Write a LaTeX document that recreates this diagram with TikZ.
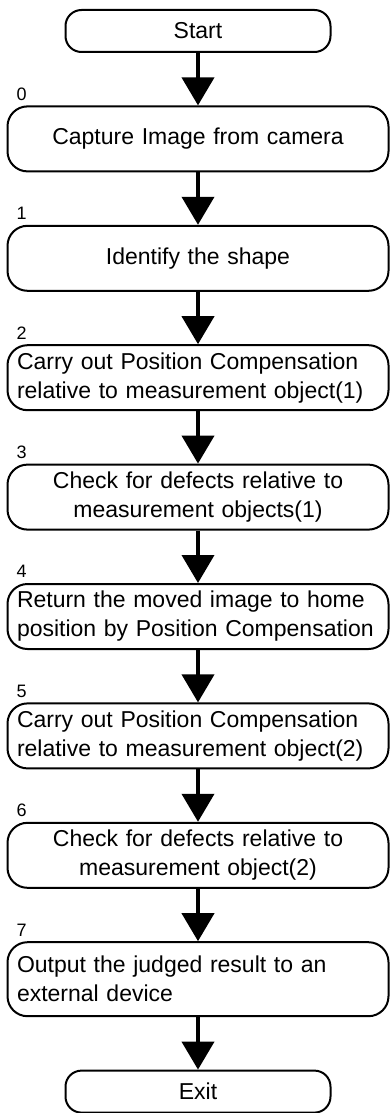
\documentclass[tikz,border=0pt]{standalone}
\usepackage{fontspec}
\setmainfont{Liberation Sans}
\usepackage{tikz}
\usetikzlibrary{shapes,arrows.meta,positioning,calc}

\begin{document}
\begin{tikzpicture}[
    node distance=52.4pt,
    every node/.style={font=\fontsize{23}{29}\selectfont},
    terminal/.style={rectangle, draw, line width=2pt, rounded corners=16pt, minimum width=265pt, minimum height=42pt, inner ysep=2pt, text centered},
    process/.style={rectangle, draw, line width=2pt, rounded corners=20pt, minimum width=381pt, minimum height=65pt, inner xsep=4pt, inner ysep=2pt, text width=362pt},
    steplabel/.style={anchor=south west, inner sep=0pt, font=\fontsize{18}{20}\selectfont},
    arrow/.style={-{Triangle[width=32pt,length=28pt]}, line width=4pt}
]

% Page
\fill[white] (0,0) rectangle (389pt,-1113pt);
\useasboundingbox (0,0) rectangle (389pt,-1113pt);

% Start
\node[terminal] (start) at (198pt,-31pt) {Start};

% Steps
\node[process, align=center, below=of start] (capture) {Capture Image from camera};
\node[process, align=center, below=of capture] (identify) {Identify the shape};
\node[process, align=left, below=of identify] (compA) {Carry out Position Compensation\\relative to measurement object(1)};
\node[process, align=center, below=of compA] (checkA) {Check for defects relative to\\measurement objects(1)};
\node[process, align=left, below=of checkA] (restore) {Return the moved image to home\\position by Position Compensation};
\node[process, align=left, below=of restore] (compB) {Carry out Position Compensation\\relative to measurement object(2)};
\node[process, align=center, below=of compB] (checkB) {Check for defects relative to\\measurement object(2)};
\node[process, align=left, below=of checkB, minimum height=74pt] (output) {Output the judged result to an\\external device};

% Exit
\node[terminal, below=of output] (exit) {Exit};

% Step numbers
\node[steplabel] (lbl0) at ($(capture.north west)+(10pt,5pt)$) {0};
\node[steplabel] (lbl1) at ($(identify.north west)+(10pt,5pt)$) {1};
\node[steplabel] (lbl2) at ($(compA.north west)+(10pt,5pt)$) {2};
\node[steplabel] (lbl3) at ($(checkA.north west)+(10pt,5pt)$) {3};
\node[steplabel] (lbl4) at ($(restore.north west)+(10pt,5pt)$) {4};
\node[steplabel] (lbl5) at ($(compB.north west)+(10pt,5pt)$) {5};
\node[steplabel] (lbl6) at ($(checkB.north west)+(10pt,5pt)$) {6};
\node[steplabel] (lbl7) at ($(output.north west)+(10pt,5pt)$) {7};

% Arrows
\draw[arrow] (start) -- (capture);
\draw[arrow] (capture) -- (identify);
\draw[arrow] (identify) -- (compA);
\draw[arrow] (compA) -- (checkA);
\draw[arrow] (checkA) -- (restore);
\draw[arrow] (restore) -- (compB);
\draw[arrow] (compB) -- (checkB);
\draw[arrow] (checkB) -- (output);
\draw[arrow] (output) -- (exit);

\end{tikzpicture}
\end{document}
